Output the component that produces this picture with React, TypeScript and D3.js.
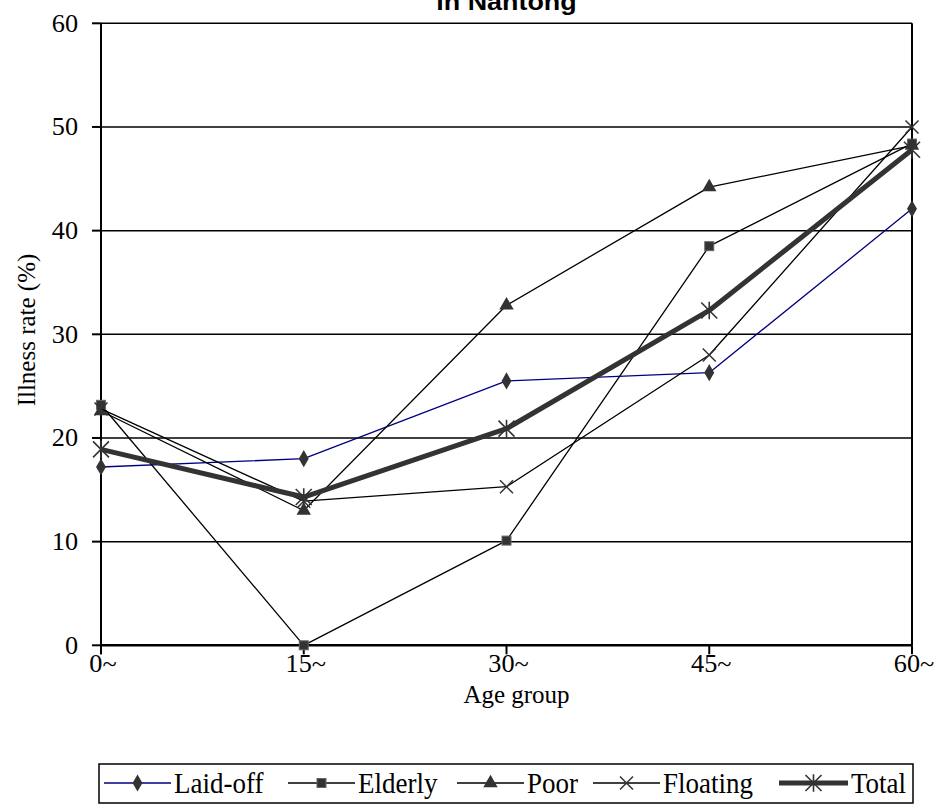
import React from 'react';
import * as d3 from 'd3';

const ageGroups = ['0~', '15~', '30~', '45~', '60~'];
const yTicks = [0, 10, 20, 30, 40, 50, 60];

const laidOff = [17.2, 18.0, 25.5, 26.3, 42.1];
const elderly = [23.2, 0, 10.1, 38.5, 48.4];
const poor = [22.6, 13.0, 32.8, 44.2, 48.2];
const floating = [22.8, 13.9, 15.3, 28.0, 50.0];
const total = [18.9, 14.3, 20.9, 32.3, 47.8];

const seriesNames = ['Laid-off', 'Elderly', 'Poor', 'Floating', 'Total'];

const serif = '"Liberation Serif", "Times New Roman", serif';
const sans = '"Liberation Sans", Arial, sans-serif';

const W = 935;
const H = 805;
const left = 101;
const right = 912;
const top = 23.3;
const bottom = 645.3;

type Style = { color: string; width: number; marker: string };

const styles: Style[] = [
  { color: '#000080', width: 1.3, marker: 'diamond' },
  { color: '#000', width: 1.3, marker: 'square' },
  { color: '#000', width: 1.3, marker: 'triangle' },
  { color: '#000', width: 1.3, marker: 'cross' },
  { color: '#333', width: 5, marker: 'star' },
];

const markerFill = '#333';

const Marker: React.FC<{ kind: string; x: number; y: number }> = ({ kind, x, y }) => {
  const t = `translate(${x},${y})`;
  if (kind === 'diamond') {
    return <path transform={t} d={d3.symbol().type(d3.symbolDiamond).size(85)() || ''} fill={markerFill} />;
  }
  if (kind === 'square') {
    return <rect x={x - 4.5} y={y - 4.5} width={9} height={9} fill={markerFill} stroke="#666" strokeWidth={1} />;
  }
  if (kind === 'triangle') {
    return <path transform={t} d={d3.symbol().type(d3.symbolTriangle).size(90)() || ''} fill={markerFill} />;
  }
  if (kind === 'cross') {
    const r = 6.5;
    return (
      <path transform={t} d={`M${-r},${-r}L${r},${r}M${-r},${r}L${r},${-r}`} stroke={markerFill} strokeWidth={1.5} fill="none" />
    );
  }
  const r = 8;
  return (
    <path
      transform={t}
      d={`M${-r},${-r}L${r},${r}M${-r},${r}L${r},${-r}M0,${-r * 1.1}L0,${r * 1.1}`}
      stroke={markerFill}
      strokeWidth={1.6}
      fill="none"
    />
  );
};

const STxt: React.FC<{ x: number; y: number; anchor?: string; size?: number; sx?: number; family?: string; weight?: string; children: React.ReactNode }> = ({
  x, y, anchor = 'middle', size = 25, sx = 1.05, family = serif, weight = 'normal', children,
}) => (
  <text
    transform={`translate(${x},${y}) scale(${sx},1)`}
    textAnchor={anchor}
    fontFamily={family}
    fontSize={size}
    fontWeight={weight}
    fill="#000"
  >
    {children}
  </text>
);

export default function App() {
  const x = d3.scalePoint<string>().domain(ageGroups).range([left, right]);
  const y = d3.scaleLinear().domain([0, 60]).range([bottom, top]);
  const data = [laidOff, elderly, poor, floating, total];

  const line = d3
    .line<number>()
    .x((_, i) => x(ageGroups[i]) as number)
    .y(d => y(d));

  const legendX = [104, 288, 457, 593, 779];
  const legendY = 783;

  return (
    <svg width={W} height={H} style={{ position: 'absolute', left: 0, top: 0, background: '#fff' }}>
      <rect width={W} height={H} fill="#fff" />

      <STxt x={(left + right) / 2} y={10} size={24} sx={1.12} family={sans} weight="bold">
        in Nantong
      </STxt>

      {/* grid */}
      {yTicks.map(t => (
        <line key={t} x1={left} x2={right} y1={y(t)} y2={y(t)} stroke="#000" strokeWidth={1.5} />
      ))}
      <line x1={right} x2={right} y1={top} y2={bottom} stroke="#000" strokeWidth={2} />
      <line x1={left} x2={left} y1={top} y2={bottom + 9} stroke="#000" strokeWidth={2} />
      <line x1={left} x2={right} y1={bottom} y2={bottom} stroke="#000" strokeWidth={2.5} />

      {/* y axis */}
      {yTicks.map(t => (
        <g key={t}>
          <line x1={left - 9} x2={left} y1={y(t)} y2={y(t)} stroke="#000" strokeWidth={2} />
          <STxt x={78} y={y(t) + 8.5} anchor="end">
            {t}
          </STxt>
        </g>
      ))}
      <text
        transform="translate(35,330) rotate(-90)"
        textAnchor="middle"
        fontFamily={serif}
        fontSize={25}
      >
        Illness rate (%)
      </text>

      {/* x axis */}
      {ageGroups.map(g => (
        <g key={g}>
          <line x1={x(g)} x2={x(g)} y1={bottom} y2={bottom + 9} stroke="#000" strokeWidth={2} />
          <STxt x={(x(g) as number) + 2} y={672}>
            {g}
          </STxt>
        </g>
      ))}
      <STxt x={(left + right) / 2 + 10} y={703} sx={1}>
        Age group
      </STxt>

      {/* series */}
      {data.map((vals, si) => (
        <g key={seriesNames[si]}>
          <path d={line(vals) || ''} fill="none" stroke={styles[si].color} strokeWidth={styles[si].width} strokeLinejoin="round" />
          {vals.map((v, i) => (
            <Marker key={i} kind={styles[si].marker} x={x(ageGroups[i]) as number} y={y(v)} />
          ))}
        </g>
      ))}

      {/* legend */}
      <rect x={99} y={764} width={814} height={39} fill="#fff" stroke="#000" strokeWidth={1.5} />
      {seriesNames.map((name, si) => {
        const lx = legendX[si];
        const len = si === 4 ? 69 : 67;
        return (
          <g key={name}>
            <line x1={lx} x2={lx + len} y1={legendY} y2={legendY} stroke={styles[si].color} strokeWidth={styles[si].width} />
            <Marker kind={styles[si].marker} x={lx + len / 2} y={legendY} />
            <STxt x={lx + len + 3} y={legendY + 10} anchor="start" size={30} sx={0.9}>
              {name}
            </STxt>
          </g>
        );
      })}
    </svg>
  );
}
